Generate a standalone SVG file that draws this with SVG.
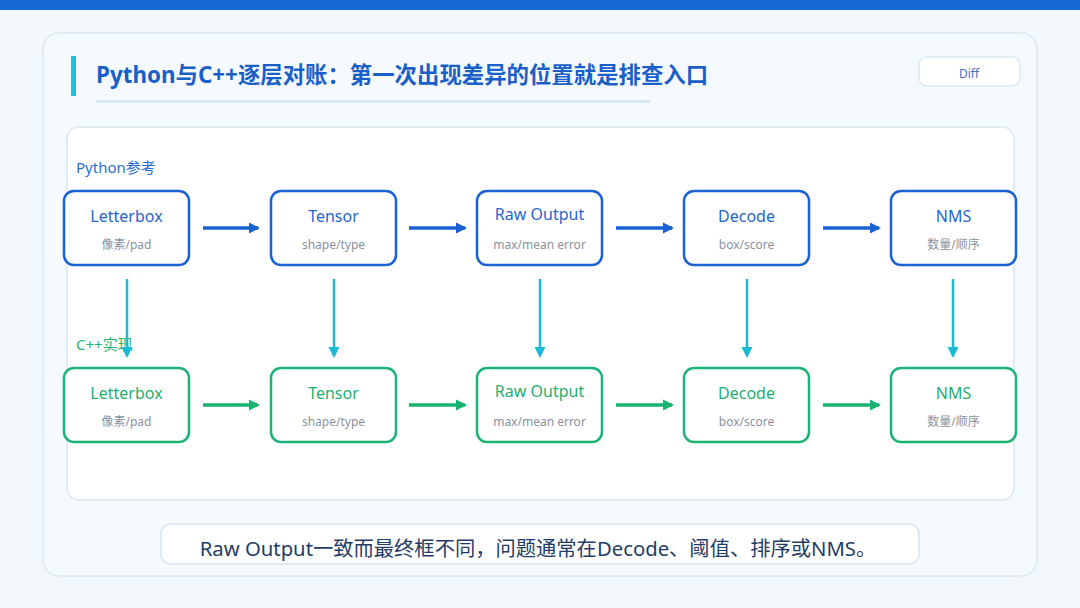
<svg xmlns="http://www.w3.org/2000/svg" width="1080" height="608" viewBox="0 0 1080 608">
<defs>
<marker id="ab" markerWidth="12" markerHeight="12" refX="9" refY="6" orient="auto" markerUnits="userSpaceOnUse"><path d="M0,0.5 L11,6 L0,11.5 Z" fill="#1a62d4"/></marker>
<marker id="ag" markerWidth="12" markerHeight="12" refX="9" refY="6" orient="auto" markerUnits="userSpaceOnUse"><path d="M0,0.5 L11,6 L0,11.5 Z" fill="#17b371"/></marker>
<marker id="ac" markerWidth="12" markerHeight="12" refX="9" refY="6" orient="auto" markerUnits="userSpaceOnUse"><path d="M0,0.5 L11,6 L0,11.5 Z" fill="#18bad6"/></marker>
</defs>
<style>
text{font-family:"Noto Sans","Noto Sans CJK SC",sans-serif}
.nb{fill:#fff;stroke:#1a62d4;stroke-width:2.5}
.ng{fill:#fff;stroke:#1db376;stroke-width:2.5}
.tb{font-size:16px;fill:#2566cc;text-anchor:middle}
.tg{font-size:16px;fill:#1fae70;text-anchor:middle}
.sub{font-size:12px;fill:#8a929e;text-anchor:middle}
.hb{stroke:#1a62d4;stroke-width:3.5;fill:none}
.hg{stroke:#17b371;stroke-width:3.5;fill:none}
.vc{stroke:#18bad6;stroke-width:2.5;fill:none}
</style>
<rect width="1080" height="608" fill="#f3f8fd"/>
<rect width="1080" height="10" fill="#1668d3"/>
<rect x="43" y="33" width="994" height="543" rx="16" fill="#f5faff" stroke="#dce9f3" stroke-width="1.5"/>
<rect x="71" y="56" width="5" height="40" fill="#1ec0da"/>
<text x="96" y="83" font-size="22.4" font-weight="bold" fill="#1a5fc8">Python与C++逐层对账：第一次出现差异的位置就是排查入口</text>
<rect x="96" y="100" width="554" height="3" fill="#d6e6f3"/>
<g id="diff">
<rect x="919" y="57" width="101" height="29" rx="8" fill="#fff" stroke="#dde8f2" stroke-width="1.5"/>
<text x="969" y="78" font-size="12" fill="#3d72c4" text-anchor="middle">Diff</text>
</g>
<rect x="67" y="127" width="947" height="373" rx="12" fill="#fff" stroke="#d8e7f2" stroke-width="1.5"/>
<text x="76" y="173" font-size="15" fill="#2e6fd0">Python参考</text>
<text x="76" y="350" font-size="15" fill="#22b573">C++实现</text>
<g id="connectors">
<line class="hb" x1="203" y1="228" x2="258" y2="228" marker-end="url(#ab)"/>
<line class="hb" x1="409" y1="228" x2="465" y2="228" marker-end="url(#ab)"/>
<line class="hb" x1="616" y1="228" x2="672" y2="228" marker-end="url(#ab)"/>
<line class="hb" x1="823" y1="228" x2="879" y2="228" marker-end="url(#ab)"/>
<line class="hg" x1="203" y1="405" x2="258" y2="405" marker-end="url(#ag)"/>
<line class="hg" x1="409" y1="405" x2="465" y2="405" marker-end="url(#ag)"/>
<line class="hg" x1="616" y1="405" x2="672" y2="405" marker-end="url(#ag)"/>
<line class="hg" x1="823" y1="405" x2="879" y2="405" marker-end="url(#ag)"/>
<line class="vc" x1="127" y1="279" x2="127" y2="356" marker-end="url(#ac)"/>
<line class="vc" x1="334" y1="279" x2="334" y2="356" marker-end="url(#ac)"/>
<line class="vc" x1="540" y1="279" x2="540" y2="356" marker-end="url(#ac)"/>
<line class="vc" x1="747" y1="279" x2="747" y2="356" marker-end="url(#ac)"/>
<line class="vc" x1="953" y1="279" x2="953" y2="356" marker-end="url(#ac)"/>
</g>
<g id="py-letterbox"><rect class="nb" x="64" y="191" width="125" height="74" rx="10"/><text class="tb" x="126.5" y="222">Letterbox</text><text class="sub" x="126.5" y="249">像素/pad</text></g>
<g id="py-tensor"><rect class="nb" x="271" y="191" width="125" height="74" rx="10"/><text class="tb" x="333.5" y="222">Tensor</text><text class="sub" x="333.5" y="249">shape/type</text></g>
<g id="py-raw"><rect class="nb" x="477" y="191" width="125" height="74" rx="10"/><text class="tb" x="539.5" y="220">Raw Output</text><text class="sub" x="539.5" y="249">max/mean error</text></g>
<g id="py-decode"><rect class="nb" x="684" y="191" width="125" height="74" rx="10"/><text class="tb" x="746.5" y="222">Decode</text><text class="sub" x="746.5" y="249">box/score</text></g>
<g id="py-nms"><rect class="nb" x="891" y="191" width="125" height="74" rx="10"/><text class="tb" x="953.5" y="222">NMS</text><text class="sub" x="953.5" y="249">数量/顺序</text></g>
<g id="cpp-letterbox"><rect class="ng" x="64" y="368" width="125" height="74" rx="10"/><text class="tg" x="126.5" y="399">Letterbox</text><text class="sub" x="126.5" y="426">像素/pad</text></g>
<g id="cpp-tensor"><rect class="ng" x="271" y="368" width="125" height="74" rx="10"/><text class="tg" x="333.5" y="399">Tensor</text><text class="sub" x="333.5" y="426">shape/type</text></g>
<g id="cpp-raw"><rect class="ng" x="477" y="368" width="125" height="74" rx="10"/><text class="tg" x="539.5" y="397">Raw Output</text><text class="sub" x="539.5" y="426">max/mean error</text></g>
<g id="cpp-decode"><rect class="ng" x="684" y="368" width="125" height="74" rx="10"/><text class="tg" x="746.5" y="399">Decode</text><text class="sub" x="746.5" y="426">box/score</text></g>
<g id="cpp-nms"><rect class="ng" x="891" y="368" width="125" height="74" rx="10"/><text class="tg" x="953.5" y="399">NMS</text><text class="sub" x="953.5" y="426">数量/顺序</text></g>
<g id="note">
<rect x="161" y="524" width="758" height="40" rx="10" fill="#fff" stroke="#d7e4ef" stroke-width="1.5"/>
<text x="538" y="556" font-size="20.3" fill="#1f3d66" text-anchor="middle">Raw Output一致而最终框不同，问题通常在Decode、阈值、排序或NMS。</text>
</g>
</svg>
